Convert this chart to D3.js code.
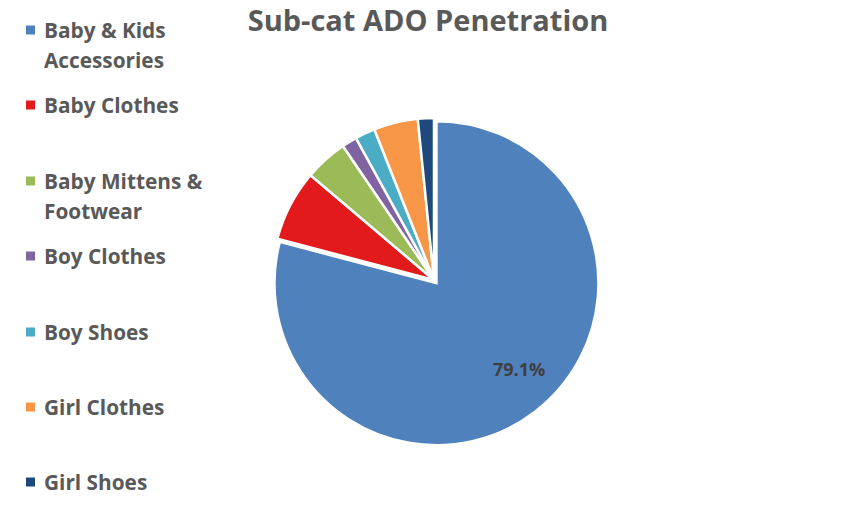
<!DOCTYPE html>
<html><head><meta charset="utf-8">
<script src="https://cdn.jsdelivr.net/npm/d3@7"></script>
<style>body{margin:0;background:#fff}svg{display:block}</style>
</head><body>
<svg id="c" width="854" height="511"></svg>
<script>
const categories = ["Baby & Kids Accessories","Baby Clothes","Baby Mittens & Footwear","Boy Clothes","Boy Shoes","Girl Clothes","Girl Shoes"];
const legendLines = [["Baby & Kids","Accessories"],["Baby Clothes"],["Baby Mittens &","Footwear"],["Boy Clothes"],["Boy Shoes"],["Girl Clothes"],["Girl Shoes"]];
const values = [79.1, 7.1, 4.3, 1.5, 2.0, 4.4, 1.6];
const colors = ["#4F81BD","#E31A1C","#9BBB59","#8064A2","#4BACC6","#F79646","#1F497D"];
const shownLabels = ["79.1%", null, null, null, null, null, null];
const title = "Sub-cat ADO Penetration";

const svg = d3.select("#c");
const font = "'Open Sans', sans-serif";
const grey = "#595959";

svg.append("text").attr("x", 428).attr("y", 31).attr("text-anchor","middle")
  .attr("font-family", font).attr("font-weight", 700).attr("font-size", 29)
  .attr("fill", grey).text(title);

const cx = 434, cy = 280, r = 162;
const pie = d3.pie().sort(null).value(d => d)(values);
const arc = d3.arc().innerRadius(0).outerRadius(r);
const g = svg.append("g").attr("transform", `translate(${cx},${cy})`);
g.selectAll("path").data(pie).join("path")
  .attr("d", arc)
  .attr("fill", (d,i) => colors[i])
  .attr("stroke", "#fff").attr("stroke-width", 2.5)
  .attr("transform", (d,i) => {
    if (i !== 0) return null;
    const m = (d.startAngle + d.endAngle)/2;
    return `translate(${4*Math.sin(m)},${-4*Math.cos(m)})`;
  });

g.selectAll("text.lbl").data(pie.filter((d,i)=>shownLabels[i])).join("text")
  .attr("class","lbl")
  .attr("x", d => { const m=(d.startAngle+d.endAngle)/2 - 0.1; return 124*Math.sin(m); })
  .attr("y", d => { const m=(d.startAngle+d.endAngle)/2 - 0.1; return -122*Math.cos(m); })
  .attr("text-anchor","middle").attr("dominant-baseline","central")
  .attr("font-family", font).attr("font-weight", 700).attr("font-size", 18)
  .attr("fill", "#404040").text((d) => shownLabels[d.index]);

const legendY = [30, 105, 181, 256, 332, 407, 482];
const lg = svg.append("g");
categories.forEach((c, i) => {
  lg.append("rect").attr("x", 26).attr("y", legendY[i]-4.5).attr("width", 9).attr("height", 9).attr("fill", colors[i]);
  legendLines[i].forEach((t, j) => {
    lg.append("text").attr("x", 44).attr("y", legendY[i] + j*30)
      .attr("dominant-baseline","central")
      .attr("font-family", font).attr("font-weight", 700).attr("font-size", 20.8)
      .attr("fill", grey).text(t);
  });
});
</script>
</body></html>
